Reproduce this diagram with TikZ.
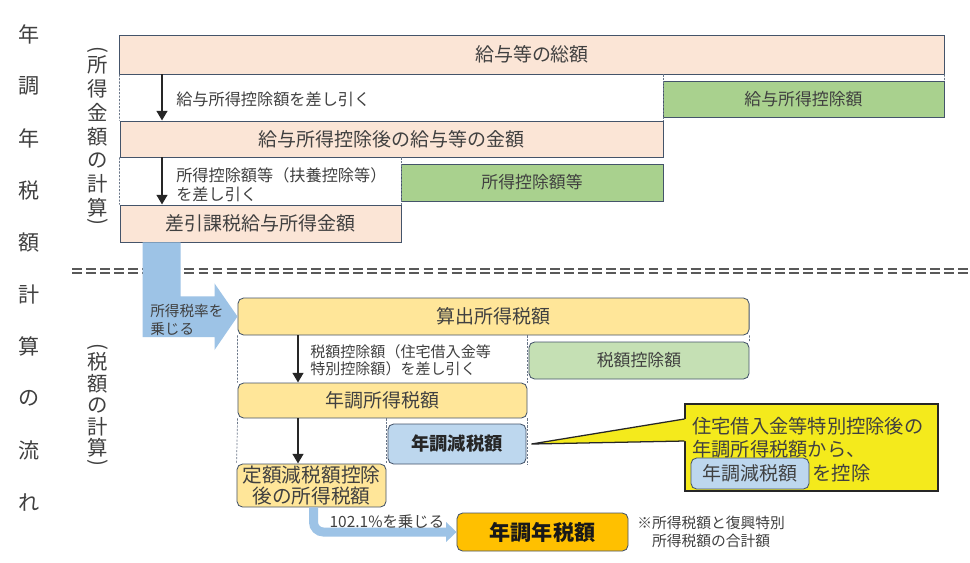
\documentclass[tikz,border=0pt]{standalone}
\usepackage{fontspec}
\setmainfont{Noto Sans CJK JP}
\usepackage{tikz}
\usetikzlibrary{arrows.meta, positioning, calc}
\definecolor{edge}{HTML}{44546A}
\definecolor{ink}{HTML}{404040}
\definecolor{peach}{HTML}{FBE5D6}
\definecolor{leaf}{HTML}{A9D18E}
\definecolor{butter}{HTML}{FFE699}
\definecolor{mint}{HTML}{C5E0B4}
\definecolor{sky}{HTML}{BDD7EE}
\definecolor{flowblue}{HTML}{9DC3E6}
\definecolor{amber}{HTML}{FFC000}
\definecolor{memoyellow}{HTML}{F4EA1C}

\tikzset{
  basebox/.style={draw=edge, line width=0.6pt, inner sep=0pt, text=ink, font=\fontsize{13.5pt}{16pt}\selectfont},
  incomebox/.style={basebox, fill=peach},
  dedbox/.style={basebox, fill=leaf, font=\fontsize{12pt}{14pt}\selectfont},
  taxbox/.style={basebox, fill=butter, rounded corners=4pt},
  creditbox/.style={taxbox, fill=mint, font=\fontsize{12pt}{14pt}\selectfont},
  cutbox/.style={taxbox, fill=sky, text=black!85, font=\fontsize{13pt}{15pt}\selectfont\bfseries},
  finalbox/.style={taxbox, fill=amber, text=black!90, font=\fontsize{15pt}{17pt}\selectfont\bfseries},
  note/.style={text=ink, inner sep=0pt, align=left, font=\fontsize{11.5pt}{13.5pt}\selectfont},
  memotext/.style={text=ink, inner sep=0pt, font=\fontsize{13.7pt}{16pt}\selectfont},
  guide/.style={draw=edge!80, line width=0.5pt, dash pattern=on 1.5pt off 1pt},
  down/.style={draw=black!85, line width=1.8pt, -{Triangle[length=2.4mm,width=2.6mm]}},
  flowline/.style={draw=flowblue, line width=6.4pt, rounded corners=7pt, -{Triangle[length=2.6mm,width=4.8mm]}},
  sepline/.style={draw=black!65, line width=1pt, dash pattern=on 7pt off 3pt},
  headchar/.style={text=ink, inner sep=0pt, font=\fontsize{15pt}{17pt}\selectfont},
  sidelabel/.style={text=ink, inner sep=0pt, align=center, font=\fontsize{14.5pt}{16.9pt}\selectfont},
  sideparen/.style={text=ink, inner sep=0pt, rotate=-90, font=\fontsize{14.5pt}{16pt}\selectfont},
}

\begin{document}
\begin{tikzpicture}[x=0.025cm, y=-0.025cm]
    \path[use as bounding box, fill=white] (0,0) rectangle (970,562);

    % vertical heading
    \foreach \c [count=\i] in {年,調,年,税,額,計,算,の,流,れ}
        \node[headchar] (head\i) at (29,{34+52.1*(\i-1)}) {\c};
    \node[sidelabel] (incomeside) at (98,136.5) {所\\得\\金\\額\\の\\計\\算};
    \node[sideparen] (incomeopen) at (98,50) {(};
    \node[sideparen] (incomeclose) at (98,222) {)};
    \node[sidelabel, font=\fontsize{14.5pt}{15.3pt}\selectfont] (taxside) at (98,405) {税\\額\\の\\計\\算};
    \node[sideparen] (taxopen) at (98,347) {(};
    \node[sideparen] (taxclose) at (98,463) {)};

    % income amount
    \coordinate (colA) at (162,0);
    \node[incomebox, minimum width=20.6cm, minimum height=0.975cm] (total) at (532,54.5) {給与等の総額};
    \node[dedbox, minimum width=7.025cm, minimum height=0.9cm] (saldeduct) at (803.5,99) {給与所得控除額};
    \node[incomebox, minimum width=13.575cm, minimum height=0.9cm] (aftersal) at (391.5,139) {給与所得控除後の給与等の金額};
    \node[dedbox, minimum width=6.55cm, minimum height=0.925cm] (incdeduct) at (532,182.5) {所得控除額等};
    \node[incomebox, minimum width=7.025cm, minimum height=0.925cm] (taxable) at (260.5,223.5) {差引課税給与所得金額};

    \draw[guide] (total.south west) -- (aftersal.north west);
    \draw[guide] (aftersal.south west) -- (taxable.north west);
    \draw[guide] (total.south -| aftersal.east) -- (aftersal.north east);
    \draw[guide] (aftersal.south -| taxable.east) -- (taxable.north east);
    \draw[guide] (total.south east) -- (saldeduct.north east);

    \draw[down] (total.south -| colA) -- (aftersal.north -| colA);
    \draw[down] (aftersal.south -| colA) -- (taxable.north -| colA);
    \node[note, anchor=west] (subsal) at (176,99) {給与所得控除額を差し引く};
    \node[note, anchor=west] (subinc) at (176,184.5) {所得控除額等（扶養控除等）\\を差し引く};

    % separator
    \draw[sepline] (72,269) -- (970,269);
    \draw[sepline] (72,273) -- (970,273);

    % tax amount
    \coordinate (colB) at (298,0);
    \node[taxbox, minimum width=12.775cm, minimum height=0.925cm] (calctax) at (493.5,316.5) {算出所得税額};
    \node[creditbox, minimum width=5.5cm, minimum height=0.925cm] (credit) at (639,360.5) {税額控除額};
    \node[taxbox, minimum width=7.225cm, minimum height=0.875cm] (annualtax) at (382.5,400.5) {年調所得税額};
    \node[cutbox, minimum width=3.45cm, minimum height=1cm] (reduction) at (457,444) {年調減税額};
    \node[taxbox, minimum width=3.725cm, minimum height=1.075cm, align=center, font=\fontsize{14pt}{15pt}\selectfont] (afterred) at (311.5,485.5) {定額減税額控除\\後の所得税額};
    \node[finalbox, minimum width=4.275cm, minimum height=0.95cm] (yeartax) at (542.5,532) {年調年税額};

    \draw[guide] (calctax.south west) -- (annualtax.north west);
    \draw[guide] (annualtax.south west) -- (afterred.north west);
    \draw[guide] (calctax.south -| annualtax.east) -- (annualtax.north east);
    \draw[guide] (annualtax.south east) -- (annualtax.east |- reduction.south);
    \draw[guide] (annualtax.south -| afterred.east) -- (afterred.north east);
    \draw[guide] (calctax.south east) -- (credit.north east);

    \draw[down] (calctax.south -| colB) -- (annualtax.north -| colB);
    \draw[down] (annualtax.south -| colB) -- (afterred.north -| colB);
    \node[note, anchor=west, font=\fontsize{10.7pt}{12pt}\selectfont] (subcredit) at (310,360.5) {税額控除額（住宅借入金等\\特別控除額）を差し引く};

    % flow arrows
    \fill[flowblue] (taxable.south west) ++(23,0) -- ++(38,0) -- ++(0,54) -- ++(34,0) -- ++(0,-13) -- (calctax.west) -- ++(-23,33.5) -- ++(0,-13) -- ++(-72,0) -- cycle;
    \node[note, anchor=west, font=\fontsize{10.4pt}{12.8pt}\selectfont] (ratelabel) at (150,320) {所得税率を\\乗じる};
    \draw[flowline] ($(afterred.south)+(2,0)$) |- (yeartax.west);
    \node[note, font=\fontsize{11pt}{13pt}\selectfont] (surtax) at (387,522) {102.1\%を乗じる};
    \node[note, anchor=west, font=\fontsize{10.5pt}{12.8pt}\selectfont] (remark) at (637,532) {※所得税額と復興特別\\　所得税額の合計額};

    % callout
    \node[draw=black!85, line width=0.9pt, fill=memoyellow, minimum width=6.325cm, minimum height=2.175cm] (memo) at (811.5,447.5) {};
    \coordinate (tip) at ($(reduction.east)+(5,0)$);
    \fill[memoyellow] ($(memo.west)+(2,-28.5)$) -- (tip) -- ($(memo.west)+(2,-6.5)$) -- cycle;
    \draw[black!85, line width=0.9pt] ($(memo.west)+(0,-28.5)$) -- (tip) -- ($(memo.west)+(0,-6.5)$);
    \node[memotext, anchor=west] (memo1) at (692,426) {住宅借入金等特別控除後の};
    \node[memotext, anchor=west] (memo2) at (692,449) {年調所得税額から、};
    \node[taxbox, fill=sky, minimum width=2.95cm, minimum height=0.775cm] (memocut) at (750,473.5) {年調減税額};
    \node[memotext, right=2pt of memocut] (memo3) {を控除};
\end{tikzpicture}
\end{document}
